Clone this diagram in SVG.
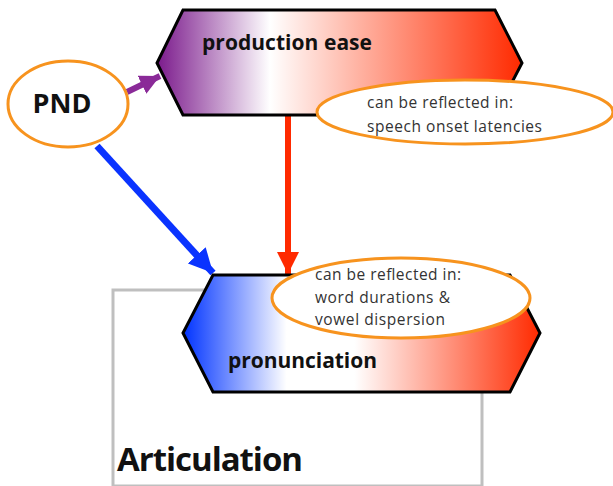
<svg xmlns="http://www.w3.org/2000/svg" width="613" height="486" viewBox="0 0 613 486">
<defs>
<linearGradient id="gTop" x1="157" y1="0" x2="522" y2="0" gradientUnits="userSpaceOnUse">
<stop offset="0" stop-color="#7B1A8C"/>
<stop offset="0.31" stop-color="#FFFFFF"/>
<stop offset="0.55" stop-color="#FFB3A3"/>
<stop offset="1" stop-color="#FF2A00"/>
</linearGradient>
<linearGradient id="gBot" x1="183" y1="0" x2="540" y2="0" gradientUnits="userSpaceOnUse">
<stop offset="0" stop-color="#0033FF"/>
<stop offset="0.29" stop-color="#FFFFFF"/>
<stop offset="0.48" stop-color="#FFFFFF"/>
<stop offset="1" stop-color="#FF2A00"/>
</linearGradient>
<marker id="mPurple" markerUnits="userSpaceOnUse" markerWidth="22" markerHeight="22" refX="20" refY="11" orient="auto"><path d="M0,1 L20,11 L0,21 Z" fill="#8A2A98"/></marker>
<marker id="mBlue" markerUnits="userSpaceOnUse" markerWidth="26" markerHeight="26" refX="24" refY="13" orient="auto"><path d="M0,1 L24,13 L0,25 Z" fill="#0A33FF"/></marker>
<marker id="mRed" markerUnits="userSpaceOnUse" markerWidth="24" markerHeight="24" refX="22" refY="12" orient="auto"><path d="M0,1 L22,12 L0,23 Z" fill="#FF2A00"/></marker>
</defs>
<style>
.hex{stroke:#000;stroke-width:3;stroke-linejoin:miter}
.oval{fill:#FFFFFF;stroke:#F7931E;stroke-width:3}
.bold{font-family:"Open Sans",Lato,sans-serif;font-weight:bold;fill:#111}
.note{font-family:"Open Sans",Lato,sans-serif;font-size:15.5px;fill:#333}
.box{fill:none;stroke:#BFBFBF;stroke-width:3}
</style>
<g id="articulation">
<rect class="box" x="113" y="290" width="369" height="196"/>
<text class="bold" x="117" y="471" font-size="33" textLength="186">Articulation</text>
</g>
<g id="connectors">
<line x1="127" y1="92" x2="160" y2="76" stroke="#8A2A98" stroke-width="6" marker-end="url(#mPurple)"/>
<line x1="97" y1="146" x2="213" y2="273" stroke="#0A33FF" stroke-width="7" marker-end="url(#mBlue)"/>
<line x1="288" y1="116" x2="288" y2="274" stroke="#FF2A00" stroke-width="6" marker-end="url(#mRed)"/>
</g>
<g id="production-ease">
<polygon class="hex" fill="url(#gTop)" points="183,10 495,10 522,63 495,115 183,115 157,63"/>
<text class="bold" x="202" y="50" font-size="21" textLength="170">production ease</text>
</g>
<g id="pnd">
<ellipse class="oval" cx="68" cy="104" rx="60" ry="43"/>
<text class="bold" x="62" y="113" font-size="27" text-anchor="middle">PND</text>
</g>
<g id="note-onset">
<ellipse class="oval" cx="465" cy="112" rx="148" ry="32"/>
<text class="note" x="367" y="108" textLength="146">can be reflected in:</text>
<text class="note" x="367" y="132" textLength="175">speech onset latencies</text>
</g>
<g id="pronunciation">
<polygon class="hex" fill="url(#gBot)" points="213,275 510,275 540,333 510,392 213,392 183,333"/>
<text class="bold" x="228" y="368" font-size="21" textLength="149">pronunciation</text>
</g>
<g id="note-durations">
<ellipse class="oval" cx="401" cy="298" rx="129" ry="40"/>
<text class="note" x="315" y="280" textLength="146">can be reflected in:</text>
<text class="note" x="315" y="303" textLength="135">word durations &amp;</text>
<text class="note" x="315" y="325" textLength="130">vowel dispersion</text>
</g>
</svg>
